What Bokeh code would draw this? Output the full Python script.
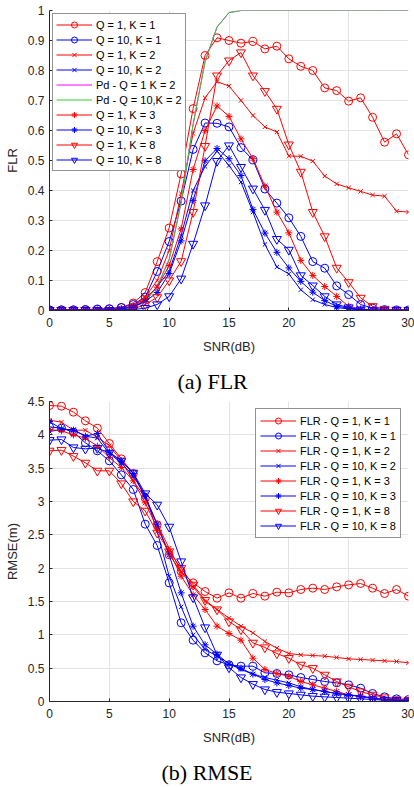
from bokeh.plotting import figure
from bokeh.models import Range1d, FixedTicker, Legend, LegendItem, Title
from bokeh.layouts import column
from bokeh.embed import file_html
from bokeh.resources import INLINE

snr = list(range(31))

# ---------- (a) FLR ----------
flr_q1_k1 = [0.002,0.002,0.002,0.003,0.004,0.005,0.010,0.025,0.060,0.163,0.275,0.455,0.673,0.850,0.909,0.900,0.891,0.897,0.872,0.881,0.839,0.814,0.800,0.742,0.733,0.698,0.709,0.644,0.561,0.589,0.519]
flr_q10_k1 = [0.002,0.002,0.002,0.003,0.005,0.006,0.010,0.020,0.045,0.130,0.230,0.365,0.537,0.625,0.624,0.612,0.543,0.502,0.405,0.358,0.309,0.247,0.163,0.141,0.082,0.053,0.020,0.008,0.003,0.002,0.002]
flr_q1_k2 = [0.001,0.001,0.001,0.001,0.002,0.003,0.006,0.015,0.045,0.100,0.200,0.390,0.590,0.709,0.763,0.748,0.700,0.650,0.612,0.595,0.515,0.514,0.498,0.448,0.422,0.409,0.397,0.385,0.381,0.331,0.328]
flr_q10_k2 = [0.001,0.001,0.001,0.001,0.002,0.003,0.006,0.012,0.035,0.080,0.130,0.250,0.400,0.480,0.531,0.483,0.428,0.328,0.220,0.145,0.122,0.069,0.036,0.020,0.010,0.005,0.002,0.001,0.001,0.001,0.001]
pd_q1_k2 = [0.0,0.0,0.0,0.0,0.0,0.001,0.003,0.010,0.030,0.080,0.170,0.360,0.620,0.830,0.945,0.993,1.0,1.0,1.0,1.0,1.0,1.0,1.0,1.0,1.0,1.0,1.0,1.0,1.0,1.0,1.0]
pd_q10_k2 = [0.0,0.0,0.0,0.0,0.0,0.001,0.003,0.010,0.030,0.080,0.170,0.360,0.620,0.830,0.945,0.993,1.0,1.0,1.0,1.0,1.0,1.0,1.0,1.0,1.0,1.0,1.0,1.0,1.0,1.0,1.0]
flr_q1_k3 = [0.001,0.001,0.001,0.001,0.002,0.003,0.006,0.015,0.040,0.078,0.150,0.272,0.470,0.600,0.682,0.647,0.572,0.506,0.415,0.328,0.259,0.167,0.117,0.080,0.047,0.014,0.005,0.002,0.001,0.001,0.001]
flr_q10_k3 = [0.001,0.001,0.001,0.001,0.001,0.002,0.005,0.012,0.030,0.060,0.123,0.232,0.367,0.499,0.540,0.506,0.450,0.337,0.258,0.194,0.142,0.097,0.061,0.033,0.014,0.008,0.003,0.001,0.001,0.001,0.001]
flr_q1_k8 = [0.001,0.001,0.001,0.001,0.001,0.001,0.002,0.005,0.020,0.044,0.100,0.164,0.328,0.548,0.783,0.833,0.860,0.783,0.731,0.672,0.553,0.462,0.328,0.247,0.142,0.094,0.042,0.014,0.005,0.002,0.001]
flr_q10_k8 = [0.001,0.001,0.001,0.001,0.001,0.001,0.002,0.003,0.008,0.020,0.047,0.106,0.222,0.350,0.498,0.550,0.478,0.406,0.335,0.238,0.202,0.117,0.083,0.047,0.020,0.010,0.003,0.001,0.001,0.001,0.001]

# ---------- (b) RMSE ----------
rmse_q1_k1 = [4.44,4.43,4.34,4.21,4.10,3.87,3.64,3.42,3.05,2.65,2.20,1.95,1.78,1.65,1.55,1.63,1.55,1.62,1.58,1.64,1.63,1.68,1.70,1.68,1.72,1.75,1.77,1.70,1.62,1.68,1.58]
rmse_q10_k1 = [4.12,4.10,4.04,3.88,3.76,3.61,3.40,3.18,2.66,2.34,1.78,1.18,0.92,0.73,0.61,0.55,0.53,0.53,0.43,0.42,0.40,0.36,0.33,0.30,0.28,0.25,0.20,0.12,0.07,0.04,0.03]
rmse_q1_k2 = [4.22,4.19,4.07,4.07,3.96,3.84,3.61,3.31,3.06,2.66,2.30,1.95,1.72,1.50,1.38,1.25,1.13,1.03,0.90,0.80,0.72,0.70,0.69,0.68,0.66,0.64,0.63,0.62,0.61,0.60,0.58]
rmse_q10_k2 = [4.05,4.08,4.08,3.98,3.95,3.72,3.58,3.38,3.10,2.55,1.88,1.42,1.00,0.78,0.68,0.57,0.48,0.41,0.36,0.32,0.28,0.22,0.18,0.15,0.12,0.10,0.08,0.05,0.03,0.02,0.02]
rmse_q1_k3 = [4.08,4.06,4.00,3.95,3.83,3.66,3.51,3.31,2.98,2.60,2.25,1.88,1.60,1.38,1.13,1.02,0.92,0.65,0.48,0.42,0.38,0.30,0.25,0.20,0.15,0.10,0.07,0.05,0.03,0.02,0.02]
rmse_q10_k3 = [4.20,4.09,4.07,3.98,4.02,3.74,3.61,3.42,3.08,2.66,2.20,1.63,1.13,0.85,0.71,0.56,0.50,0.41,0.33,0.28,0.24,0.20,0.18,0.15,0.12,0.10,0.08,0.05,0.03,0.02,0.02]
rmse_q1_k8 = [3.76,3.77,3.68,3.58,3.46,3.46,3.27,3.00,2.86,2.53,2.25,2.00,1.75,1.52,1.38,1.20,1.08,0.88,0.81,0.72,0.65,0.55,0.50,0.40,0.30,0.22,0.15,0.10,0.06,0.03,0.02]
rmse_q10_k8 = [3.92,3.93,3.81,3.79,3.80,3.73,3.61,3.43,3.12,2.95,2.62,2.10,1.56,1.11,0.70,0.51,0.36,0.26,0.18,0.14,0.12,0.10,0.08,0.07,0.06,0.05,0.04,0.03,0.02,0.02,0.01]

x_ticks = [0, 5, 10, 15, 20, 25, 30]
flr_ticks = [0, 0.1, 0.2, 0.3, 0.4, 0.5, 0.6, 0.7, 0.8, 0.9, 1]
flr_tick_labels = ["0", "0.1", "0.2", "0.3", "0.4", "0.5", "0.6", "0.7", "0.8", "0.9", "1"]
rmse_ticks = [0, 0.5, 1, 1.5, 2, 2.5, 3, 3.5, 4, 4.5]
rmse_tick_labels = ["0", "0.5", "1", "1.5", "2", "2.5", "3", "3.5", "4", "4.5"]

RED = "#ff0000"
BLUE = "#0000ff"
AX = "#262626"
FONT = "Liberation Sans"


def make_fig(ymax, yticks, ylabels, ylabel, top_border, bottom_border):
    p = figure(frame_width=359, frame_height=300, output_backend="svg",
               toolbar_location=None, x_range=Range1d(0, 30), y_range=Range1d(0, ymax),
               min_border_left=49, min_border_right=6, min_border_top=top_border,
               min_border_bottom=bottom_border)
    p.outline_line_color = None
    p.background_fill_color = "white"
    p.border_fill_color = "white"
    p.xaxis.ticker = FixedTicker(ticks=x_ticks)
    p.yaxis.ticker = FixedTicker(ticks=yticks)
    p.yaxis.major_label_overrides = {t: l for t, l in zip(yticks, ylabels)}
    for ax in (p.xaxis, p.yaxis):
        ax.axis_line_color = AX
        ax.major_tick_line_color = AX
        ax.major_tick_in = 3
        ax.major_tick_out = 0
        ax.minor_tick_line_color = None
        ax.major_label_text_font = FONT
        ax.major_label_text_font_size = "12px"
        ax.major_label_text_color = AX
        ax.axis_label_text_font = FONT
        ax.axis_label_text_font_size = "13px"
        ax.axis_label_text_font_style = "normal"
        ax.axis_label_text_color = AX
    p.xaxis.major_label_standoff = 7
    p.yaxis.major_label_standoff = 5
    p.xaxis.axis_label = "SNR(dB)"
    p.xaxis.axis_label_standoff = 9
    p.yaxis.axis_label = ylabel
    p.yaxis.axis_label_standoff = 5
    p.xgrid.ticker = FixedTicker(ticks=x_ticks)
    p.ygrid.ticker = FixedTicker(ticks=yticks)
    p.grid.grid_line_color = "#e3e3e3"
    p.grid.grid_line_width = 1
    return p


def series(p, y, color, marker, label, size):
    r1 = p.line(snr, y, line_color=color, line_width=1)
    items = [r1]
    if marker is not None:
        r2 = p.scatter(snr, y, marker=marker, size=size, line_color=color,
                       fill_color=None, line_width=1)
        items.append(r2)
    return LegendItem(label=label, renderers=items)


def style_legend(lg):
    lg.border_line_color = AX
    lg.border_line_width = 1
    lg.background_fill_color = "white"
    lg.background_fill_alpha = 1
    lg.label_text_font = FONT
    lg.label_text_font_size = "11px"
    lg.label_text_color = "black"
    lg.glyph_width = 36
    lg.glyph_height = 15
    lg.label_height = 15
    lg.spacing = 0
    lg.padding = 3
    lg.label_standoff = 4
    lg.margin = 3


def caption(text, offset, standoff):
    return Title(text=text, align="left", offset=offset, standoff=standoff,
                 text_font="Liberation Serif", text_font_size="22px",
                 text_font_style="normal", text_color="black")


# ---- panel (a)
p1 = make_fig(1, flr_ticks, flr_tick_labels, "FLR", 10, 48)
items1 = [
    series(p1, flr_q1_k1, RED, "circle", "Q = 1, K = 1", 8),
    series(p1, flr_q10_k1, BLUE, "circle", "Q = 10, K = 1", 8),
    series(p1, flr_q1_k2, RED, "x", "Q = 1, K = 2", 6),
    series(p1, flr_q10_k2, BLUE, "x", "Q = 10, K = 2", 6),
    series(p1, pd_q1_k2, "#ff00ff", None, "Pd - Q = 1 K = 2", 0),
    series(p1, pd_q10_k2, "#33cc33", None, "Pd - Q = 10,K = 2", 0),
    series(p1, flr_q1_k3, RED, "asterisk", "Q = 1, K = 3", 7),
    series(p1, flr_q10_k3, BLUE, "asterisk", "Q = 10, K = 3", 7),
    series(p1, flr_q1_k8, RED, "inverted_triangle", "Q = 1, K = 8", 9),
    series(p1, flr_q10_k8, BLUE, "inverted_triangle", "Q = 10, K = 8", 9),
]
lg1 = Legend(items=items1, location="top_left")
style_legend(lg1)
p1.add_layout(lg1)

# ---- panel (b)
p2 = make_fig(4.5, rmse_ticks, rmse_tick_labels, "RMSE(m)", 0, 40)
# caption of panel (a) sits in the gap between the two panels
p2.add_layout(caption("(a) FLR", 128, 16), "above")
items2 = [
    series(p2, rmse_q1_k1, RED, "circle", "FLR - Q = 1, K = 1", 8),
    series(p2, rmse_q10_k1, BLUE, "circle", "FLR - Q = 10, K = 1", 8),
    series(p2, rmse_q1_k2, RED, "x", "FLR - Q = 1, K = 2", 6),
    series(p2, rmse_q10_k2, BLUE, "x", "FLR - Q = 10, K = 2", 6),
    series(p2, rmse_q1_k3, RED, "asterisk", "FLR - Q = 1, K = 3", 7),
    series(p2, rmse_q10_k3, BLUE, "asterisk", "FLR - Q = 10, K = 3", 7),
    series(p2, rmse_q1_k8, RED, "inverted_triangle", "FLR - Q = 1, K = 8", 9),
    series(p2, rmse_q10_k8, BLUE, "inverted_triangle", "FLR - Q = 10, K = 8", 9),
]
lg2 = Legend(items=items2, location=(206, 163))
style_legend(lg2)
lg2.padding = 4
lg2.margin = 0
p2.add_layout(lg2)
p2.add_layout(caption("(b) RMSE", 112, 20), "below")

layout = column(p1, p2, spacing=0)
open("out.html", "w").write(file_html(layout, INLINE))
